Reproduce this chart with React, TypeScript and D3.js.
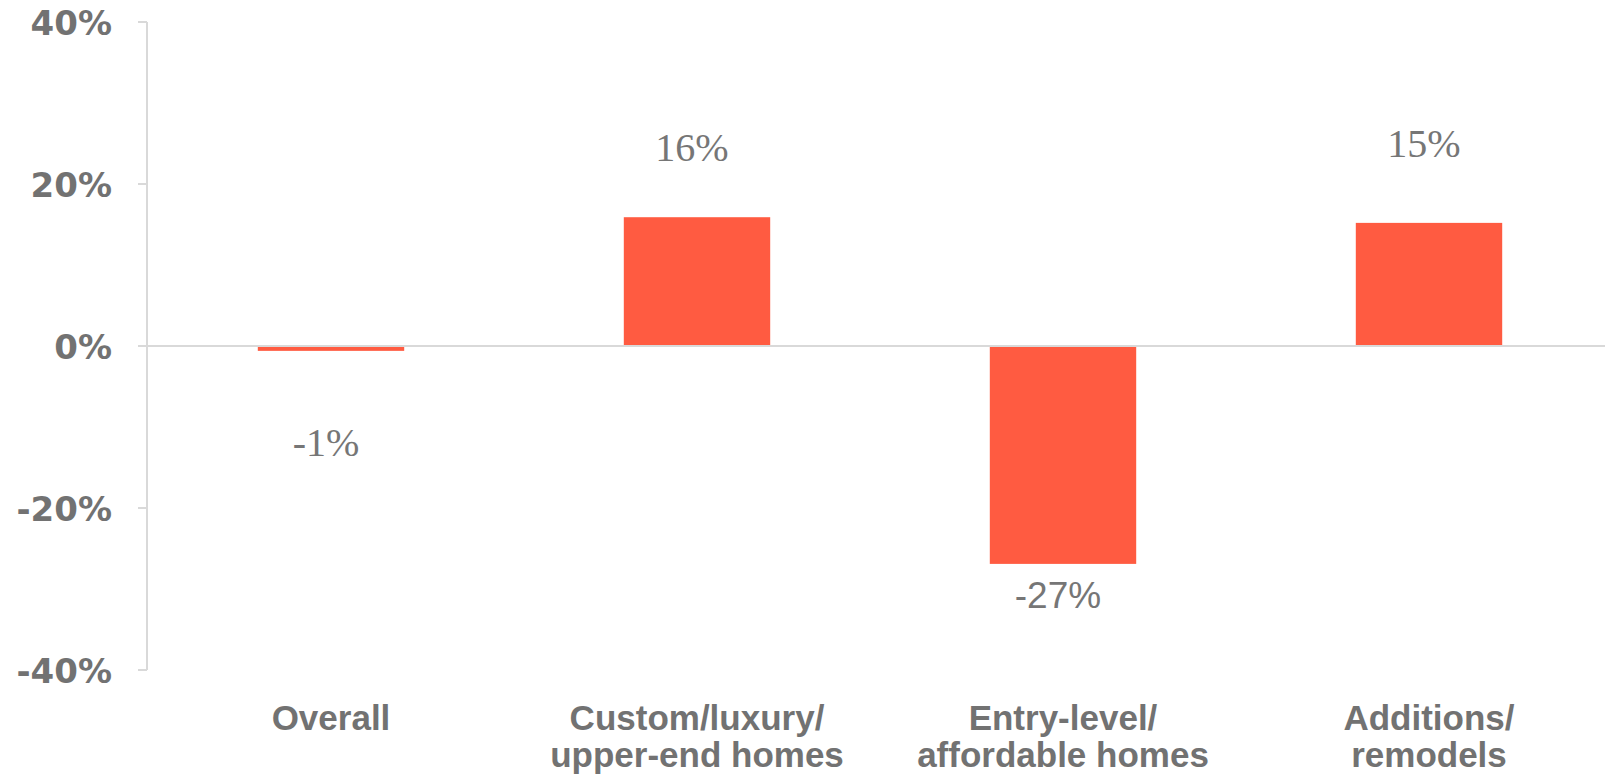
import React from "react";
import * as d3 from "d3";

// ---- data ----
const categories: string[][] = [
  ["Overall"],
  ["Custom/luxury/", "upper-end homes"],
  ["Entry-level/", "affordable homes"],
  ["Additions/", "remodels"],
];
const values: number[] = [-0.6, 15.9, -26.9, 15.2];
const valueLabels: string[] = ["-1%", "16%", "-27%", "15%"];
const yTicks: number[] = [40, 20, 0, -20, -40];
const yTickLabels: string[] = ["40%", "20%", "0%", "-20%", "-40%"];

// ---- layout (annotation anchors in data units, as placed in the reference) ----
const labelAnchor: number[] = [-13.6, 22.8, -32.35, 23.3];
const labelSerif: boolean[] = [true, true, false, true];

const W = 1605;
const H = 781;
const BAR = "#FF5B41";
const GRID = "#D9D9D9";
const TXT = "#727272";

export default function App() {
  const keys = categories.map((c) => c.join(" "));
  const x = d3
    .scaleBand<string>()
    .domain(keys)
    .range([148, 1612])
    .paddingInner(0.6)
    .paddingOuter(0.3);
  const y = d3.scaleLinear().domain([-40, 40]).range([670, 22]);
  const axisX = 147;

  return (
    <svg
      width={W}
      height={H}
      style={{ position: "absolute", left: 0, top: 0, background: "#fff" }}
    >
      {/* y axis */}
      <line x1={axisX} x2={axisX} y1={y(40)} y2={y(-40)} stroke={GRID} strokeWidth={2} />
      {yTicks.map((t, i) => (
        <g key={t}>
          <line x1={138} x2={axisX} y1={y(t)} y2={y(t)} stroke={GRID} strokeWidth={2} />
          <text
            x={112}
            y={y(t) + 13}
            textAnchor="end"
            fontFamily="'DejaVu Sans', sans-serif"
            fontWeight="bold"
            fontSize={34}
            fill={TXT}
          >
            {yTickLabels[i]}
          </text>
        </g>
      ))}
      {/* bars */}
      {values.map((v, i) => (
        <rect
          key={keys[i]}
          x={x(keys[i])!}
          width={x.bandwidth()}
          y={Math.min(y(v), y(0))}
          height={Math.abs(y(v) - y(0))}
          fill={BAR}
        />
      ))}
      {/* zero line */}
      <line x1={138} x2={W} y1={y(0)} y2={y(0)} stroke={GRID} strokeWidth={2} />
      {/* value labels */}
      {valueLabels.map((l, i) => (
        <text
          key={l}
          x={x(keys[i])! + x.bandwidth() / 2 - 5}
          y={y(labelAnchor[i])}
          textAnchor="middle"
          fontFamily={labelSerif[i] ? "'Liberation Serif', serif" : "'Liberation Sans', sans-serif"}
          fontSize={labelSerif[i] ? 40 : 37}
          fill="#767676"
        >
          {l}
        </text>
      ))}
      {/* category labels */}
      {categories.map((lines, i) => (
        <text
          key={keys[i]}
          x={x(keys[i])! + x.bandwidth() / 2}
          y={730}
          textAnchor="middle"
          fontFamily="'Liberation Sans', Arial, sans-serif"
          fontWeight="bold"
          fontSize={35}
          fill={TXT}
        >
          {lines.map((ln, j) => (
            <tspan key={ln} x={x(keys[i])! + x.bandwidth() / 2} dy={j === 0 ? 0 : 37}>
              {ln}
            </tspan>
          ))}
        </text>
      ))}
    </svg>
  );
}
